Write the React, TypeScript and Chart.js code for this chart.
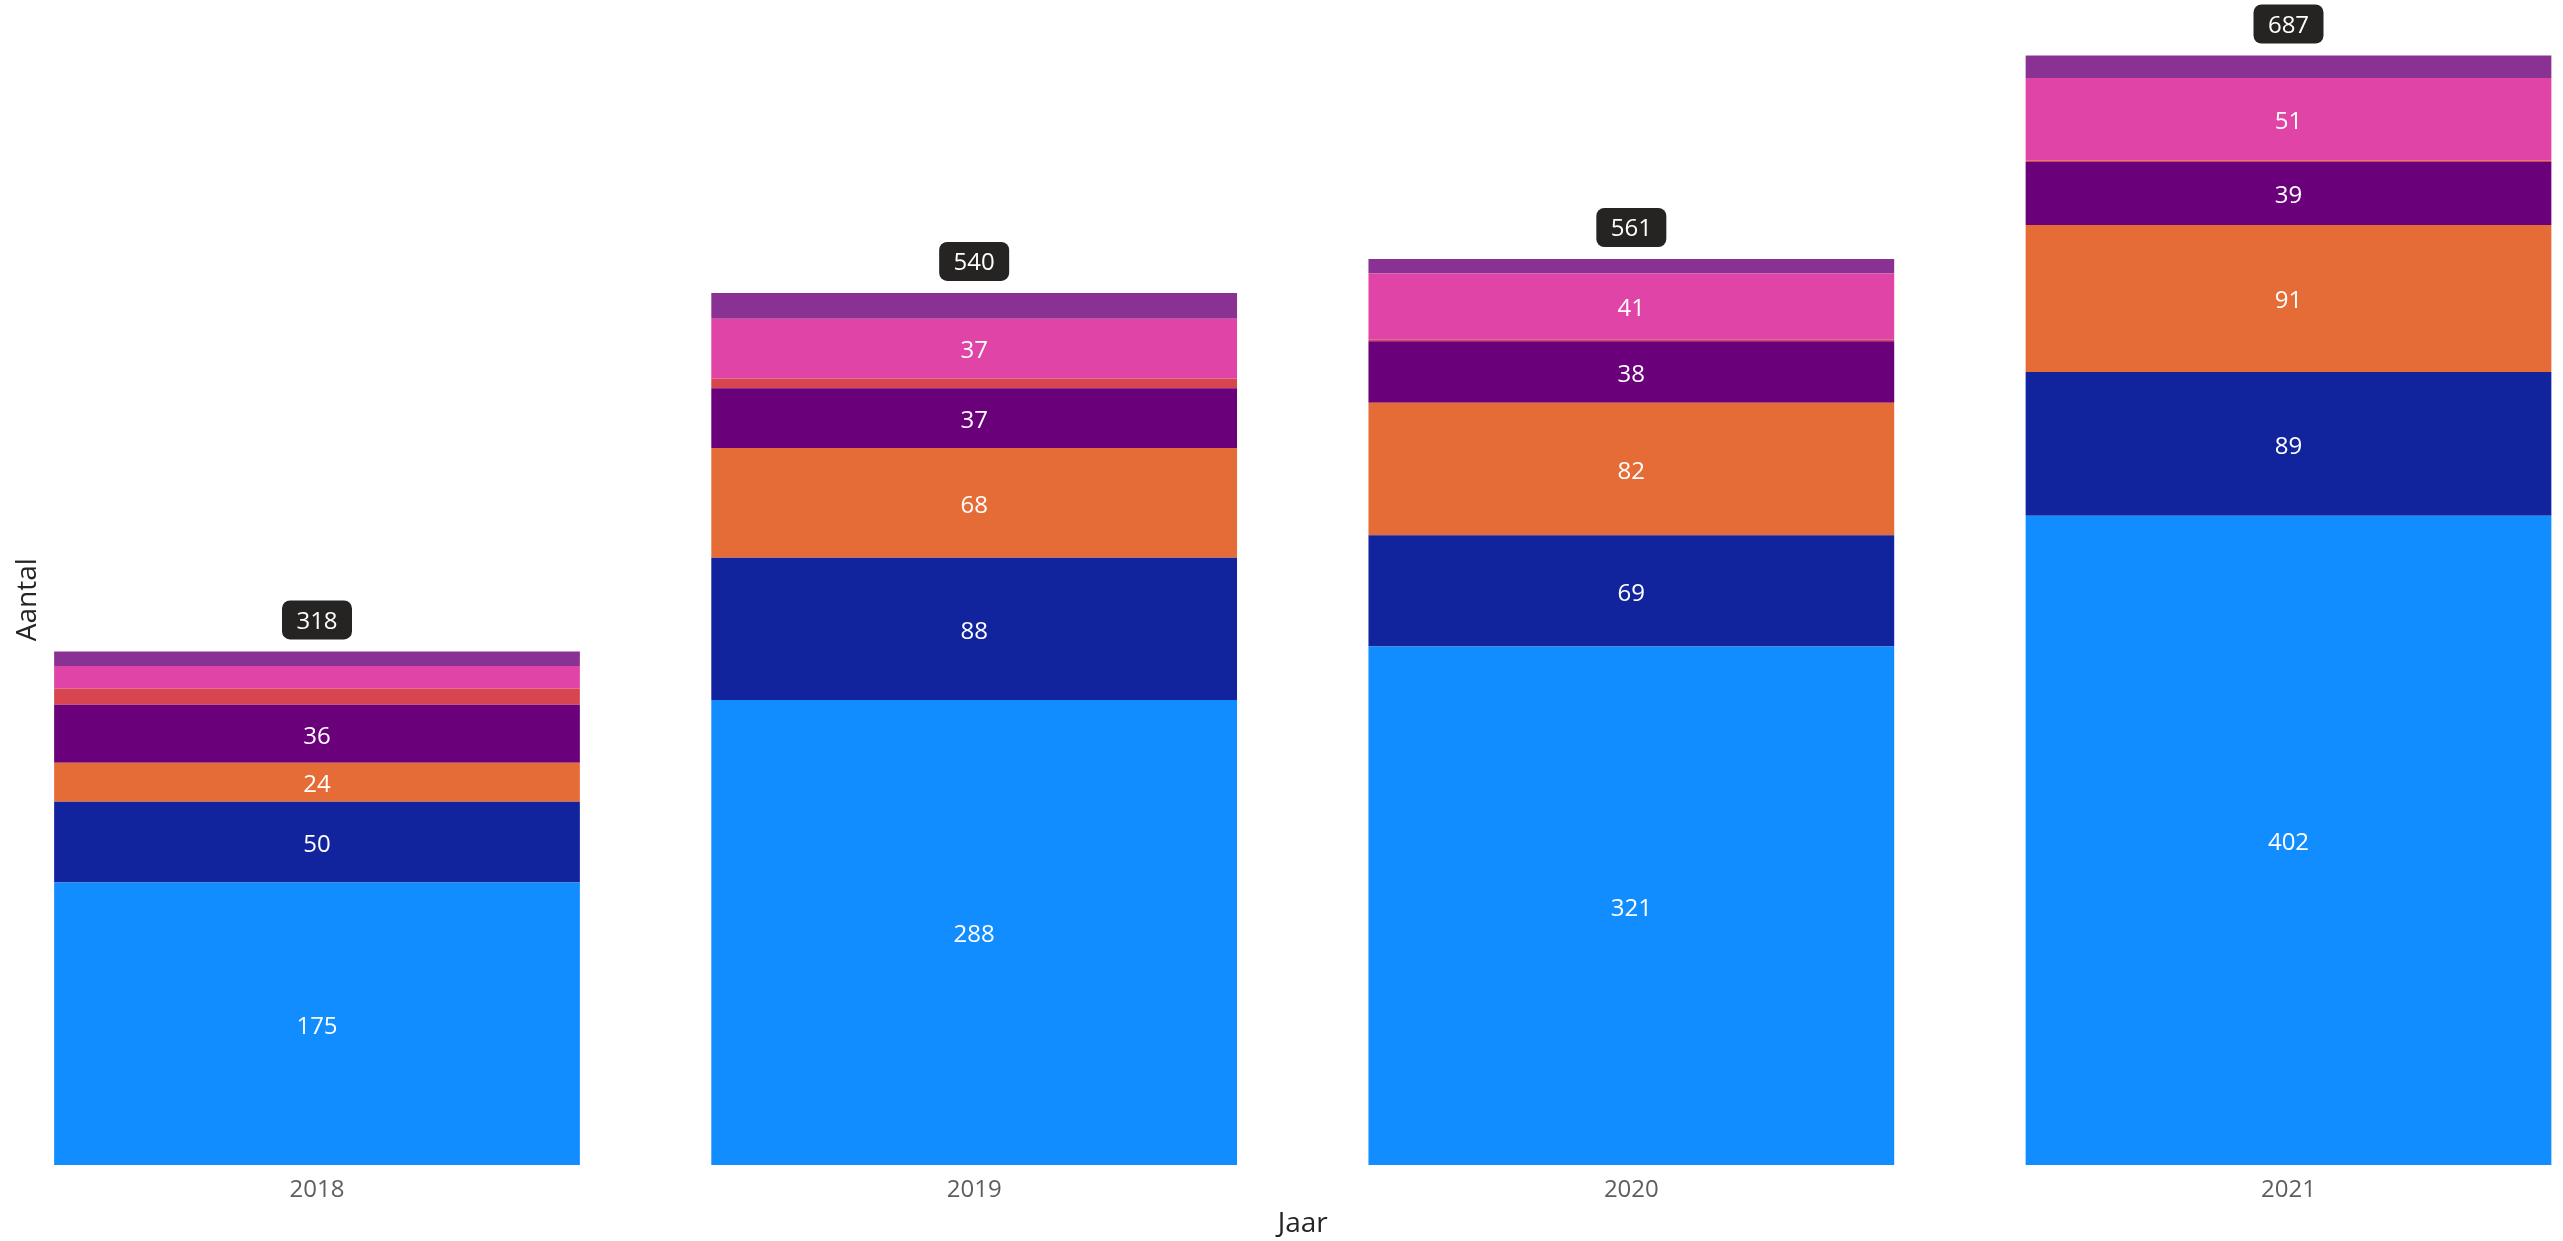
import React, { useEffect, useRef } from "react";
import { Chart, registerables } from "chart.js";

Chart.register(...registerables);

const years = ["2018", "2019", "2020", "2021"];
const serieBlauw = [175, 288, 321, 402];
const serieDonkerblauw = [50, 88, 69, 89];
const serieOranje = [24, 68, 82, 91];
const seriePaars = [36, 37, 38, 39];
const serieRood = [10, 6, 1, 1];
const serieRoze = [14, 37, 41, 51];
const serieViolet = [9, 16, 9, 14];

const seriesNames = ["Reeks 1", "Reeks 2", "Reeks 3", "Reeks 4", "Reeks 5", "Reeks 6", "Reeks 7"];
const seriesColors = ["#118DFF", "#12239E", "#E66C37", "#6B007B", "#D64550", "#E044A7", "#8A3293"];
const seriesValues = [serieBlauw, serieDonkerblauw, serieOranje, seriePaars, serieRood, serieRoze, serieViolet];

const FONT = '"Segoe UI", "Open Sans", sans-serif';
const LABEL_MIN = 20;

const labelPlugin = {
  id: "pbiLabels",
  afterDatasetsDraw(chart: any) {
    const ctx = chart.ctx;
    ctx.save();
    ctx.font = `24px ${FONT}`;
    ctx.textAlign = "center";
    ctx.textBaseline = "middle";
    chart.data.datasets.forEach((ds: any, di: number) => {
      const meta = chart.getDatasetMeta(di);
      meta.data.forEach((bar: any, i: number) => {
        const v = ds.data[i];
        if (v >= LABEL_MIN) {
          ctx.fillStyle = "#FFFFFF";
          ctx.fillText(String(v), bar.x, (bar.y + bar.base) / 2 + 3);
        }
      });
    });
    // totals
    const yScale = chart.scales.y;
    const xScale = chart.scales.x;
    years.forEach((_, i) => {
      const total = seriesValues.reduce((s, arr) => s + arr[i], 0);
      const x = xScale.getPixelForValue(i);
      const yTop = yScale.getPixelForValue(total);
      const w = 70;
      const h = 39;
      const bx = x - w / 2;
      const by = yTop - 12 - h;
      ctx.fillStyle = "#252423";
      ctx.beginPath();
      (ctx as any).roundRect(bx, by, w, h, 8);
      ctx.fill();
      ctx.fillStyle = "#FFFFFF";
      ctx.fillText(String(total), x, by + h / 2 + 2);
    });
    ctx.restore();
  },
};

export default function App() {
  const ref = useRef<HTMLCanvasElement | null>(null);
  useEffect(() => {
    if (!ref.current) return;
    const chart = new Chart(ref.current, {
      type: "bar",
      data: {
        labels: years,
        datasets: seriesValues.map((vals, k) => ({
          label: seriesNames[k],
          data: vals,
          backgroundColor: seriesColors[k],
          borderWidth: 0,
          categoryPercentage: 0.8,
          barPercentage: 1.0,
          clip: false as any,
        })),
      },
      options: {
        animation: false,
        responsive: false,
        devicePixelRatio: 1,
        layout: { padding: { left: 0, right: 274.5, top: 34.5, bottom: 0 } },
        plugins: {
          legend: { display: false },
          tooltip: { enabled: false },
        },
        scales: {
          x: {
            stacked: true,
            offset: false,
            grid: { display: false, drawTicks: false, offset: false },
            border: { display: false },
            ticks: { color: "#605E5C", font: { family: FONT, size: 24 }, padding: 11 },
            title: {
              display: true,
              text: "Jaar",
              color: "#252423",
              font: { family: FONT, size: 28 },
              padding: { top: 0, bottom: 0 },
            },
            afterFit: (axis: any) => {
              axis.height = 76;
            },
          },
          y: {
            stacked: true,
            min: 0,
            max: 700,
            grid: { display: false, drawTicks: false },
            border: { display: false },
            ticks: { display: false },
            title: {
              display: true,
              text: "Aantal",
              color: "#252423",
              font: { family: FONT, size: 28 },
              padding: { top: 11, bottom: 0 },
            },
            afterFit: (axis: any) => {
              axis.width = 317;
            },
          },
        },
      },
      plugins: [labelPlugin],
    });
    return () => chart.destroy();
  }, []);
  return (
    <div style={{ position: "fixed", left: 0, top: 0, width: 2563, height: 1241, background: "#FFFFFF" }}>
      <canvas ref={ref} width={2563} height={1241} style={{ display: "block" }} />
    </div>
  );
}
